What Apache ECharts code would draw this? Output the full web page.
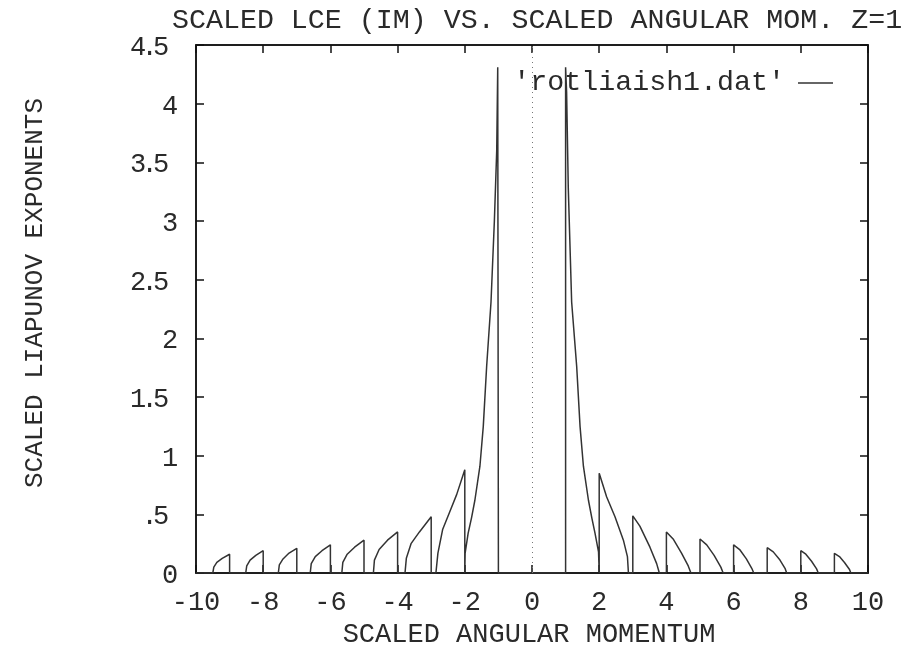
<!DOCTYPE html>
<html>
<head>
<meta charset="utf-8">
<script src="https://cdn.jsdelivr.net/npm/echarts@6/dist/echarts.min.js"></script>
<style>
  html, body { margin: 0; padding: 0; background: #fff; }
  #chart { width: 904px; height: 646px; }
</style>
</head>
<body>
<div id="chart"></div>
<script>
// Scaled Liapunov exponent vs. scaled angular momentum (Z = 1)
const seriesName = "'rotliaish1.dat'";

// Negative side: arches rising towards each integer, then dropping to zero
const leftBranch = [
  [-10, 0], [-9.5, 0],
  [-9.47, 0.05], [-9.38, 0.09], [-9.22, 0.125], [-9.0, 0.16], [-9.0, 0],
  [-8.52, 0], [-8.49, 0.06], [-8.39, 0.11], [-8.22, 0.15], [-8.0, 0.19], [-8.0, 0],
  [-7.55, 0], [-7.52, 0.07], [-7.41, 0.12], [-7.23, 0.17], [-7.0, 0.21], [-7.0, 0],
  [-6.6, 0], [-6.57, 0.08], [-6.45, 0.14], [-6.25, 0.19], [-6.0, 0.24], [-6.0, 0],
  [-5.66, 0], [-5.63, 0.09], [-5.5, 0.16], [-5.28, 0.22], [-5.0, 0.28], [-5.0, 0],
  [-4.72, 0], [-4.69, 0.11], [-4.55, 0.2], [-4.3, 0.28], [-4.0, 0.35], [-4.0, 0],
  [-3.78, 0], [-3.74, 0.125], [-3.6, 0.25], [-3.35, 0.35], [-3.0, 0.48], [-3.0, 0],
  [-2.86, 0], [-2.8, 0.17], [-2.66, 0.37], [-2.45, 0.52], [-2.24, 0.67], [-2.0, 0.88], [-2.0, 0]
];

// Central region: the two large peaks at -1 and +1
const centralPeaks = [
  [-1.99, 0.17], [-1.9, 0.34], [-1.8, 0.47], [-1.7, 0.62], [-1.55, 0.91], [-1.45, 1.25],
  [-1.35, 1.76], [-1.22, 2.31], [-1.12, 3.0], [-1.05, 3.6], [-1.02, 4.31], [-1.0, 4.31], [-1.0, 0],
  [1.0, 0], [1.0, 4.31], [1.03, 4.1], [1.08, 3.28], [1.18, 2.31], [1.33, 1.76], [1.43, 1.25],
  [1.53, 0.91], [1.68, 0.62], [1.78, 0.47], [1.875, 0.34], [1.98, 0.18], [2.0, 0]
];

// Positive side: jumps at each integer, then decaying to zero
const rightBranch = [
  [2.0, 0.85], [2.22, 0.65], [2.47, 0.48], [2.72, 0.28], [2.84, 0.14], [2.87, 0],
  [3.0, 0], [3.0, 0.487], [3.21, 0.4], [3.51, 0.22], [3.71, 0.08], [3.79, 0],
  [4.0, 0], [4.0, 0.35], [4.2, 0.29], [4.45, 0.17], [4.65, 0.06], [4.73, 0],
  [5.0, 0], [5.0, 0.29], [5.2, 0.24], [5.42, 0.15], [5.62, 0.05], [5.69, 0],
  [6.0, 0], [6.0, 0.24], [6.18, 0.2], [6.38, 0.12], [6.54, 0.04], [6.6, 0],
  [7.0, 0], [7.0, 0.216], [7.18, 0.18], [7.38, 0.11], [7.53, 0.04], [7.58, 0],
  [8.0, 0], [8.0, 0.19], [8.15, 0.16], [8.32, 0.1], [8.47, 0.035], [8.52, 0],
  [9.0, 0], [9.0, 0.168], [9.15, 0.14], [9.3, 0.09], [9.45, 0.03], [9.49, 0],
  [10, 0]
];

const yTickLabels = ['0', '.5', '1', '1.5', '2', '2.5', '3', '3.5', '4', '4.5'];
const xTickLabels = ['-10', '-8', '-6', '-4', '-2', '0', '2', '4', '6', '8', '10'];

const FONT = 'Liberation Mono';
const INK = '#2a2a2a';
const fontSize = 27;

// y tick labels: digits in fixed cells, the decimal point in a narrow one
function yLabel(text) {
  const parts = text.split('').map(ch => ch === '.' ? '{p|.}' : '{c|' + ch + '}');
  if (text.indexOf('.') >= 0) parts.push('{g| }');
  return parts.join('');
}
const yRich = {
  c: { fontFamily: FONT, fontSize: fontSize, color: INK, width: 14, align: 'center' },
  p: { fontFamily: FONT, fontSize: fontSize, color: INK, width: 9, align: 'center' },
  g: { fontFamily: FONT, fontSize: fontSize, color: INK, width: 9 }
};

const chart = echarts.init(document.getElementById('chart'), null, { renderer: 'canvas' });

const baseAxis = {
  axisLine: { show: true, onZero: false, lineStyle: { color: '#111', width: 1.5 } },
  axisTick: { show: true, inside: true, length: 8, lineStyle: { color: '#111', width: 1.5 } },
  splitLine: { show: false }
};

chart.setOption({
  animation: false,
  backgroundColor: '#fff',
  title: {
    text: 'SCALED LCE (IM) VS. SCALED ANGULAR MOM. Z=1',
    left: 172, top: 7, padding: 0,
    textStyle: { fontFamily: FONT, fontSize: 28.3, fontWeight: 'normal', color: INK }
  },
  legend: {
    data: [seriesName],
    right: 71, top: 69, padding: 0, align: 'right',
    icon: 'rect', itemWidth: 35, itemHeight: 1.5,
    textStyle: { fontFamily: FONT, fontSize: 28.3, color: INK, padding: [0, 8, 0, 0] }
  },
  grid: {
    left: 196, right: 36, top: 45, bottom: 73,
    containLabel: false, outerBoundsMode: 'none',
    show: true, borderColor: '#111', borderWidth: 1.5
  },
  xAxis: [
    Object.assign({}, baseAxis, {
      type: 'value', min: -10, max: 10, interval: 2, position: 'bottom',
      name: 'SCALED ANGULAR MOMENTUM', nameLocation: 'middle', nameGap: 39,
      nameTextStyle: { fontFamily: FONT, fontSize: fontSize, color: INK, padding: [0, 6, 0, 0] },
      axisLabel: {
        margin: 16, fontFamily: FONT, fontSize: fontSize, color: INK,
        formatter: v => xTickLabels[Math.round((v + 10) / 2)]
      }
    }),
    Object.assign({}, baseAxis, {
      type: 'value', min: -10, max: 10, interval: 2, position: 'top',
      axisLabel: { show: false }
    })
  ],
  yAxis: [
    Object.assign({}, baseAxis, {
      type: 'value', min: 0, max: 4.5, interval: 0.5, position: 'left',
      name: 'SCALED LIAPUNOV EXPONENTS', nameLocation: 'middle', nameGap: 148, nameRotate: 90,
      nameTextStyle: { fontFamily: FONT, fontSize: 26, color: INK, padding: [0, 0, 0, 32] },
      axisLabel: {
        margin: 19, padding: [6, 0, 0, 0], rich: yRich,
        formatter: v => yLabel(yTickLabels[Math.round(v * 2)])
      }
    }),
    Object.assign({}, baseAxis, {
      type: 'value', min: 0, max: 4.5, interval: 0.5, position: 'right',
      axisLabel: { show: false }
    })
  ],
  series: [{
    name: seriesName,
    type: 'line',
    data: leftBranch.concat(centralPeaks, rightBranch),
    symbol: 'none',
    lineStyle: { color: '#333', width: 1.5 },
    itemStyle: { color: '#333' },
    markLine: {
      silent: true, symbol: 'none', label: { show: false },
      lineStyle: { type: [1, 4], color: '#777', width: 1 },
      data: [{ xAxis: 0 }]
    }
  }]
});
</script>
</body>
</html>
